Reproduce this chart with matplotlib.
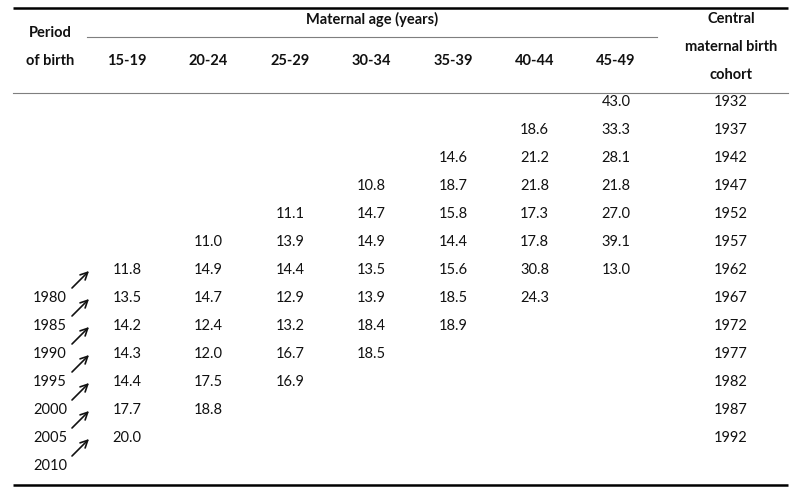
"""Cohort table of maternal age-specific values, laid out on a diagonal.

Rows are central maternal birth cohorts; each period of birth runs up a
diagonal, marked by the small arrows on the left.
"""

import matplotlib

matplotlib.use("Agg")
import matplotlib.pyplot as plt

plt.rcParams["font.family"] = ["Lato", "DejaVu Sans"]

age_groups = ["15-19", "20-24", "25-29", "30-34", "35-39", "40-44", "45-49"]
cohorts = [1932, 1937, 1942, 1947, 1952, 1957, 1962,
           1967, 1972, 1977, 1982, 1987, 1992]
periods = [1980, 1985, 1990, 1995, 2000, 2005, 2010]

# one list per age group, aligned to cohorts (None = empty cell)
age_15_19 = [None, None, None, None, None, None, 11.8, 13.5, 14.2, 14.3, 14.4, 17.7, 20.0]
age_20_24 = [None, None, None, None, None, 11.0, 14.9, 14.7, 12.4, 12.0, 17.5, 18.8, None]
age_25_29 = [None, None, None, None, 11.1, 13.9, 14.4, 12.9, 13.2, 16.7, 16.9, None, None]
age_30_34 = [None, None, None, 10.8, 14.7, 14.9, 13.5, 13.9, 18.4, 18.5, None, None, None]
age_35_39 = [None, None, 14.6, 18.7, 15.8, 14.4, 15.6, 18.5, 18.9, None, None, None, None]
age_40_44 = [None, 18.6, 21.2, 21.8, 17.3, 17.8, 30.8, 24.3, None, None, None, None, None]
age_45_49 = [43.0, 33.3, 28.1, 21.8, 27.0, 39.1, 13.0, None, None, None, None, None, None]
columns = [age_15_19, age_20_24, age_25_29, age_30_34, age_35_39, age_40_44, age_45_49]

fig = plt.figure(figsize=(8.0, 4.94), dpi=100)
ax = fig.add_axes([0, 0, 1, 1])
ax.set_xlim(0, 800)
ax.set_ylim(494, 0)
ax.axis("off")

INK = "#111111"
FS = 10.5
col_x = [127 + 81.5 * i for i in range(len(age_groups))]
cohort_x = 731
period_x = 50
row_y0, row_step = 102, 28

# rules
ax.plot([13, 788], [8, 8], color="black", linewidth=1.8, solid_capstyle="butt")
ax.plot([87, 657], [37, 37], color="#7f7f7f", linewidth=0.8)
ax.plot([13, 788], [93, 93], color="#7f7f7f", linewidth=0.8)
ax.plot([13, 788], [485, 485], color="black", linewidth=1.8, solid_capstyle="butt")

# header
bold = dict(fontsize=FS, fontweight="bold", color=INK, ha="center", va="center")
ax.text(period_x, 33, "Period", **bold)
ax.text(period_x, 61, "of birth", **bold)
ax.text(372, 19, "Maternal age (years)", **bold)
for x, label in zip(col_x, age_groups):
    ax.text(x, 61, label, **bold)
ax.text(cohort_x, 19, "Central", **bold)
ax.text(cohort_x, 47, "maternal birth", **bold)
ax.text(cohort_x, 75, "cohort", **bold)

# body
plain = dict(fontsize=FS, color=INK, ha="center", va="center")
for r, cohort in enumerate(cohorts):
    y = row_y0 + row_step * r
    for x, col in zip(col_x, columns):
        if col[r] is not None:
            ax.text(x, y, f"{col[r]:.1f}", **plain)
    ax.text(cohort_x, y, str(cohort), **plain)

# periods of birth, each pointing up its diagonal
first_period_row = cohorts.index(1967)
for i, period in enumerate(periods):
    y = row_y0 + row_step * (first_period_row + i)
    ax.text(period_x, y, str(period), **plain)
    ax.annotate(
        "",
        xy=(89, y - row_step + 1),
        xytext=(72, y - 10),
        arrowprops=dict(arrowstyle="->", color=INK, linewidth=1.2,
                        shrinkA=0, shrinkB=0, mutation_scale=13),
    )

fig.savefig("out.png", dpi=100)
